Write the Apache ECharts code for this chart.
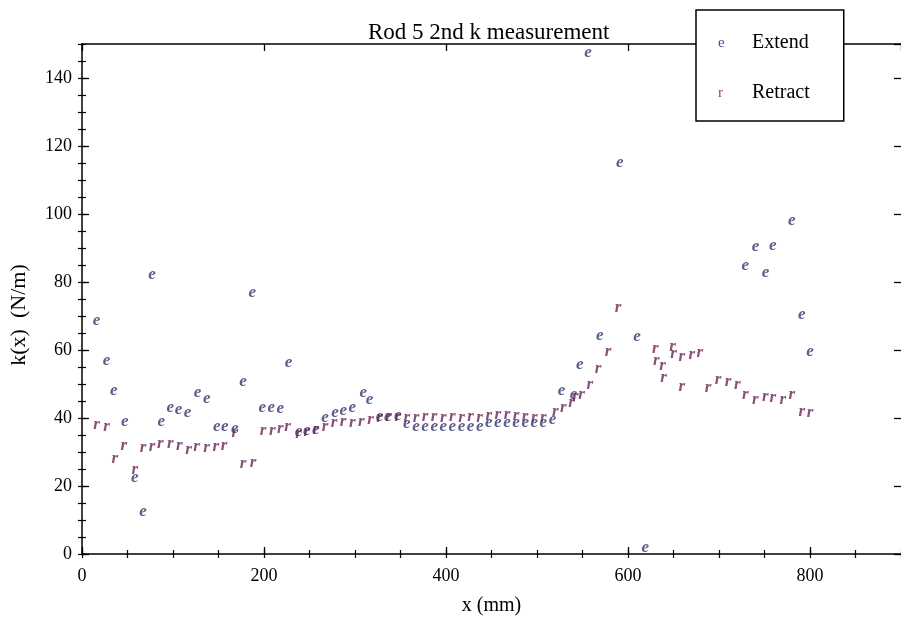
<!DOCTYPE html>
<html>
<head>
<meta charset="utf-8">
<script src="https://cdn.jsdelivr.net/npm/echarts@6/dist/echarts.min.js"></script>
<style>
  html, body { margin: 0; padding: 0; background: #fff; }
  #chart { width: 901px; height: 619px; }
</style>
</head>
<body>
<div id="chart"></div>
<script>
// valores (x en mm, k en N/m)
const extendX = [16, 27, 35, 47, 58, 67, 77, 87, 97, 106, 116, 127, 137, 148, 157, 168, 177, 187, 198, 208,
  218, 227, 238, 247, 257, 267, 278, 287, 297, 309, 316, 327, 336, 347, 357, 367, 377, 387, 397, 407,
  417, 427, 437, 447, 457, 467, 477, 487, 497, 507, 517, 527, 540, 547, 556, 569, 591, 610, 619, 729,
  740, 751, 759, 780, 791, 800];
const extendK = [68.5, 57, 48, 39, 22.4, 12.4, 82.2, 39, 43, 42.5, 41.5, 47.4, 45.6, 37.4, 37.6, 37, 50.8, 77, 43, 43.2,
  42.8, 56.3, 36, 36.3, 36.5, 40.2, 41.5, 42.2, 43, 47.4, 45.4, 40.4, 40.4, 40.8, 38.3, 37.5, 37.4, 37.4, 37.4, 37.4,
  37.4, 37.4, 37.5, 38.6, 38.6, 38.6, 38.6, 38.6, 38.6, 38.6, 39.5, 48, 47, 55.7, 147.6, 64.2, 115, 64, 2, 84.9,
  90.5, 82.8, 90.8, 98, 70.4, 59.5];

const retractX = [16, 27, 36, 46, 58, 67, 77, 86, 97, 107, 117, 126, 137, 147, 156, 168, 177, 188, 199, 209,
  218, 226, 238, 247, 257, 267, 277, 287, 297, 307, 317, 327, 337, 347, 357, 367, 377, 387, 397, 407,
  417, 427, 437, 447, 457, 467, 477, 487, 497, 507, 520, 529, 538, 542, 549, 558, 567, 578, 589, 630,
  631, 638, 639, 649, 650, 659, 659, 670, 679, 688, 699, 710, 720, 729, 740, 751, 759, 770, 780, 791, 800];
const retractK = [38, 37.6, 28, 32, 24.7, 31.2, 31.5, 32.4, 32.4, 31.8, 30.6, 31.5, 31.2, 31.5, 31.8, 35.7, 26.5, 26.8, 36.3, 36.3,
  36.8, 37.4, 35.5, 36, 36.5, 37.6, 38.6, 38.9, 38.6, 39, 39.5, 40, 40.4, 40.4, 40.2, 40, 40.4, 40.4, 40.2, 40.4,
  40, 40.4, 40.2, 40.7, 41, 41, 40.7, 40.4, 40, 40.2, 41.8, 43, 44.5, 46.3, 46.9, 49.8, 54.5, 59.5, 72.5, 60.5,
  57, 55.5, 52, 61, 59, 58, 49.2, 58.6, 59.2, 48.9, 51.3, 50.7, 49.8, 46.9, 45.4, 46.3, 46, 45.4, 46.9, 41.8, 41.5];

const seriesNames = ['Extend', 'Retract'];
const markerLetters = ['e', 'r'];

const colorExtend = '#34346e';
const colorRetract = '#6c2656';
const serif = 'Liberation Serif';

const myChart = echarts.init(document.getElementById('chart'));

const zip = (xs, ys) => xs.map((x, i) => [x, ys[i]]);

// eje mayor (con etiquetas) y eje menor (solo marcas cortas)
function xAxisPair(position, showLabels) {
  const base = {
    type: 'value', min: 0, max: 900, position: position,
    splitLine: { show: false },
    axisLine: { show: true, onZero: false, lineStyle: { color: '#000', width: 1.5 } }
  };
  return [
    Object.assign({}, base, {
      interval: 200,
      axisTick: { show: true, inside: true, length: 7, lineStyle: { color: '#000', width: 1.3 } },
      axisLabel: {
        show: showLabels, showMaxLabel: false, margin: 13,
        color: '#000', fontFamily: serif, fontSize: 18
      }
    }),
    Object.assign({}, base, {
      interval: 50,
      axisLine: { show: false },
      axisTick: { show: true, inside: true, length: 4, lineStyle: { color: '#000', width: 1.2 } },
      axisLabel: { show: false }
    })
  ];
}

function yAxisPair(position, showLabels, showLine) {
  const base = {
    type: 'value', min: 0, max: 150, position: position,
    splitLine: { show: false },
    axisLine: { show: showLine, onZero: false, lineStyle: { color: '#000', width: 1.5 } }
  };
  return [
    Object.assign({}, base, {
      interval: 20,
      axisTick: { show: true, inside: true, length: 7, lineStyle: { color: '#000', width: 1.3 } },
      axisLabel: {
        show: showLabels, showMaxLabel: false, margin: 10,
        color: '#000', fontFamily: serif, fontSize: 18
      }
    }),
    Object.assign({}, base, {
      interval: 5,
      axisLine: { show: false },
      axisTick: { show: true, inside: true, length: 4, lineStyle: { color: '#000', width: 1.2 } },
      axisLabel: { show: false }
    })
  ];
}

const xAxes = xAxisPair('bottom', true).concat(xAxisPair('top', false));
xAxes[0].name = 'x (mm)';
xAxes[0].nameLocation = 'middle';
xAxes[0].nameGap = 42;
xAxes[0].nameTextStyle = { color: '#000', fontFamily: serif, fontSize: 20 };

// el borde derecho queda cortado en la imagen: solo se ven las marcas
const yAxes = yAxisPair('left', true, true).concat(yAxisPair('right', false, false));
yAxes[0].name = 'k(x)  (N/m)';
yAxes[0].nameLocation = 'middle';
yAxes[0].nameGap = 52;
yAxes[0].nameTextStyle = { color: '#000', fontFamily: serif, fontSize: 22, padding: [0, 32, 0, 0] };

function letterSeries(name, letter, color, data) {
  return {
    name: name,
    type: 'scatter',
    xAxisIndex: 0,
    yAxisIndex: 0,
    symbol: 'circle',
    symbolSize: 2,
    itemStyle: { color: 'rgba(0,0,0,0)' },
    label: {
      show: true,
      position: 'inside',
      formatter: letter,
      color: color,
      fontFamily: serif,
      fontStyle: 'italic',
      fontWeight: 'bold',
      fontSize: 17
    },
    emphasis: { disabled: true },
    silent: true,
    data: data
  };
}

let option = {
  animation: false,
  backgroundColor: '#fff',
  title: {
    text: 'Rod 5 2nd k measurement',
    left: 363,
    top: 16,
    textStyle: { color: '#000', fontFamily: serif, fontWeight: 'normal', fontSize: 23 }
  },
  legend: {
    orient: 'vertical',
    left: 696,
    top: 10,
    padding: [23, 34, 18, 16],
    itemGap: 30,
    itemWidth: 1,
    itemHeight: 1,
    backgroundColor: '#fff',
    borderColor: '#000',
    borderWidth: 1.5,
    borderRadius: 0,
    selectedMode: false,
    data: seriesNames,
    formatter: function (name) {
      return name === 'Extend' ? '{a|e}{t|' + name + '}' : '{b|r}{t|' + name + '}';
    },
    textStyle: {
      rich: {
        a: { color: '#4a4a9a', fontFamily: serif, fontSize: 15, width: 34 },
        b: { color: '#9a4456', fontFamily: serif, fontSize: 15, width: 34 },
        t: { color: '#000', fontFamily: serif, fontSize: 20 }
      }
    }
  },
  grid: { left: 82, right: 0, top: 44, bottom: 65, containLabel: false, outerBoundsMode: 'none' },
  xAxis: xAxes,
  yAxis: yAxes,
  series: [
    letterSeries(seriesNames[0], markerLetters[0], colorExtend, zip(extendX, extendK)),
    letterSeries(seriesNames[1], markerLetters[1], colorRetract, zip(retractX, retractK))
  ]
};

myChart.setOption(option);
</script>
</body>
</html>
